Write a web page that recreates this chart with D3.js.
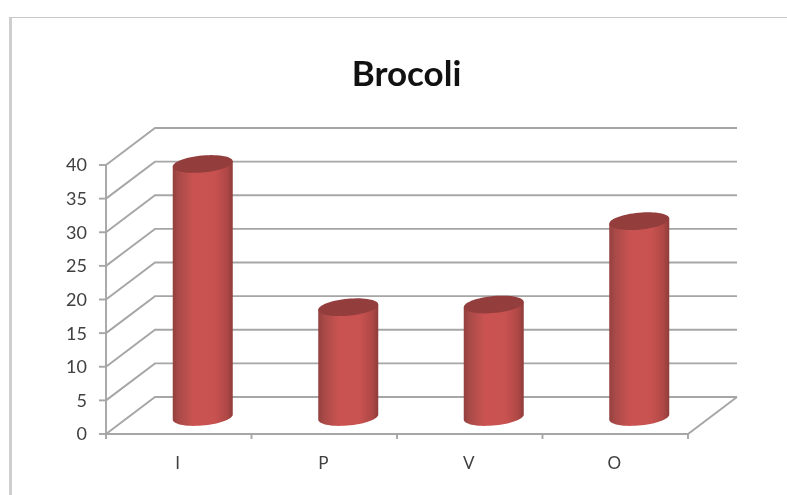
<!DOCTYPE html>
<html><head><meta charset="utf-8">
<script src="https://cdn.jsdelivr.net/npm/d3@7"></script>
<style>html,body{margin:0;padding:0;background:#fff}svg{display:block;filter:blur(0.75px)}</style>
</head><body><svg id="c" width="787" height="495"></svg>
<script>
const title = "Brocoli";
const categories = ["I","P","V","O"];
const values = [37.4,16.1,16.5,28.9];
const yTicks = [0,5,10,15,20,25,30,35,40];

const svg = d3.select("#c");
const W = 787, H = 495;
const depthX = 49, depthY = -37;
const x = d3.scaleBand().domain(categories).range([106,688]);
const y = d3.scaleLinear().domain([0,40]).range([434,165]);
const radius = 30, ry = 8.5, tilt = -5;

const defs = svg.append("defs");
const grad = defs.append("linearGradient").attr("id","cyl");
[[0,"#93403e"],[0.1,"#a94a48"],[0.35,"#ca5351"],[0.7,"#c85250"],[0.9,"#af4846"],[1,"#8f3c3a"]]
  .forEach(([o,c])=>grad.append("stop").attr("offset",o).attr("stop-color",c));

// outer frame
svg.append("line").attr("x1",10.5).attr("x2",10.5).attr("y1",17).attr("y2",H)
  .attr("stroke","#cfcfcf").attr("stroke-width",3);
svg.append("line").attr("x1",9).attr("x2",W).attr("y1",17.5).attr("y2",17.5)
  .attr("stroke","#c8c8c8").attr("stroke-width",1);

const grid = "#a6a6a6";
const g = svg.append("g").attr("fill","none").attr("stroke",grid).attr("stroke-width",1.9);
// side wall & back wall gridlines
yTicks.forEach(t=>{
  g.append("path").attr("d",d3.line()([
    [x.range()[0],y(t)],
    [x.range()[0]+depthX,y(t)+depthY],
    [x.range()[1]+depthX,y(t)+depthY]
  ]));
  g.append("line").attr("x1",x.range()[0]-7).attr("x2",x.range()[0]).attr("y1",y(t)).attr("y2",y(t));
});
// y axis, floor front and right edges
g.append("line").attr("x1",x.range()[0]).attr("x2",x.range()[0]).attr("y1",y(0)).attr("y2",y(40));
g.append("path").attr("d",d3.line()([
  [x.range()[0],y(0)],[x.range()[1],y(0)],[x.range()[1]+depthX,y(0)+depthY]
]));
// category ticks
categories.forEach(c=>{
  g.append("line").attr("x1",x(c)).attr("x2",x(c)).attr("y1",y(0)).attr("y2",y(0)+5);
});
g.append("line").attr("x1",x.range()[1]).attr("x2",x.range()[1]).attr("y1",y(0)).attr("y2",y(0)+5);

// cylinders
const bars = svg.append("g");
categories.forEach((c,i)=>{
  const cx = x(c)+x.bandwidth()/2+depthX/2-0.5;
  const yBase = y(0)+depthY/2+1.5;
  const yTop = y(values[i])+depthY/2;
  const rad = tilt*Math.PI/180;
  const pt = (a,yc)=>[
    cx+radius*Math.cos(a),
    yc+radius*Math.cos(a)*Math.sin(rad)+ry*Math.sin(a)
  ];
  const topArc = d3.range(0,2*Math.PI+0.01,0.1).map(a=>pt(a,yTop));
  const frontBottom = d3.range(0,Math.PI+0.01,0.1).map(a=>pt(a,yBase));
  const side = [pt(0,yTop),...frontBottom,pt(Math.PI,yTop)];
  bars.append("path").attr("d",d3.line()(side)+"Z").attr("fill","url(#cyl)");
  bars.append("path").attr("d",d3.line()(topArc)+"Z").attr("fill","#933e3c");
});

// labels
const tickColor = "#404040";
const font = "Lato, 'Open Sans', sans-serif";
svg.append("g").selectAll("text").data(yTicks).join("text")
  .attr("x",87).attr("y",d=>y(d)).attr("dy","0.36em").attr("text-anchor","end")
  .attr("font-family",font).attr("font-size",18).attr("fill",tickColor).text(d=>d);
svg.append("g").selectAll("text").data(categories).join("text")
  .attr("x",d=>x(d)+x.bandwidth()/2-1).attr("y",469).attr("text-anchor","middle")
  .attr("font-family",font).attr("font-size",17).attr("fill",tickColor).text(d=>d);
svg.append("text").attr("x",406.5).attr("y",86).attr("text-anchor","middle")
  .attr("font-family",font).attr("font-weight",700).attr("font-size",35).attr("fill","#111").text(title);
</script></body></html>
